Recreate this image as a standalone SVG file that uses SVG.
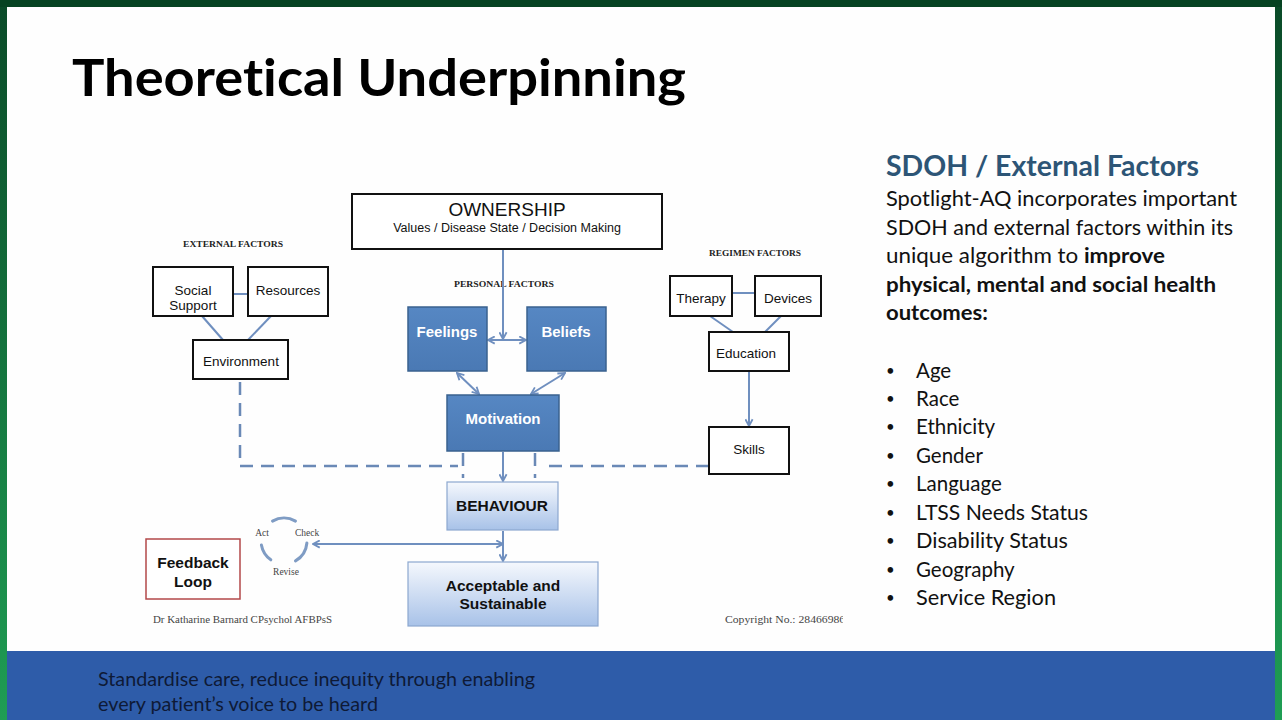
<svg xmlns="http://www.w3.org/2000/svg" width="1282" height="720" viewBox="0 0 1282 720">
<defs>
<style>
text{font-variant-ligatures:none}
.box{fill:#fff;stroke:#111;stroke-width:2}
.blue{fill:url(#gBlue);stroke:#3a628f;stroke-width:1.5}
.light{fill:url(#gLight);stroke:#8ca7cf;stroke-width:1.2}
.lbl{font-family:"Liberation Sans",Arial,sans-serif;font-size:13.5px;fill:#111;text-anchor:middle}
.own{font-size:19px}
.sub{font-size:12.5px}
.wlbl{font-family:"Liberation Sans",Arial,sans-serif;font-size:15px;font-weight:bold;fill:#fff;text-anchor:middle}
.blbl{font-family:"Liberation Sans",Arial,sans-serif;font-size:15.5px;font-weight:bold;fill:#111;text-anchor:middle}
.hdr{font-family:"Liberation Serif","Times New Roman",serif;font-size:9px;font-weight:bold;fill:#222;text-anchor:middle}
.srf{font-family:"Liberation Serif","Times New Roman",serif;font-size:9.5px;fill:#444}
.con{stroke:#6f8fbf;stroke-width:2;fill:none}
.dash{stroke:#6a89b6;stroke-width:2.5;fill:none;stroke-dasharray:13 8}
.arc{stroke:#7f9cc4;stroke-width:3;fill:none;stroke-linecap:round}
.side{font-family:Lato,"Open Sans",sans-serif;font-size:20.5px;fill:#111}
.bul{font-family:Lato,"Open Sans",sans-serif;font-size:20.5px;fill:#111}
.dot{font-size:15px}
</style>
<linearGradient id="gBlue" x1="0" y1="0" x2="0" y2="1"><stop offset="0" stop-color="#5687c3"/><stop offset="1" stop-color="#4a79b4"/></linearGradient>
<linearGradient id="gLight" x1="0" y1="0" x2="0" y2="1"><stop offset="0" stop-color="#f5f8fd"/><stop offset="1" stop-color="#a8c2e8"/></linearGradient>
<linearGradient id="gSide" x1="0" y1="0" x2="0" y2="1"><stop offset="0" stop-color="#0a4a28"/><stop offset="1" stop-color="#1f9e54"/></linearGradient>
<marker id="ah" viewBox="0 0 10 10" refX="9" refY="5" markerWidth="9" markerHeight="9" markerUnits="userSpaceOnUse" orient="auto-start-reverse"><path d="M1.5,1 L9,5 L1.5,9" fill="none" stroke="#6f8fbf" stroke-width="2"/></marker>
<clipPath id="cpClip"><rect x="700" y="605" width="143" height="25"/></clipPath>
</defs>

<!-- frame -->
<rect x="0" y="0" width="1282" height="720" fill="url(#gSide)"/>
<rect x="0" y="0" width="1282" height="7" fill="#064322"/>
<rect x="7" y="7" width="1268" height="644" fill="#fefefe"/>
<rect x="7" y="651" width="1268" height="69" fill="#2e5ca9"/>

<text x="72" y="96" font-family="Lato,'Open Sans',sans-serif" font-size="52" font-weight="bold" fill="#000" textLength="614" lengthAdjust="spacingAndGlyphs">Theoretical Underpinning</text>

<!-- section headers -->
<text class="hdr" x="233" y="247" textLength="100" lengthAdjust="spacingAndGlyphs">EXTERNAL FACTORS</text>
<text class="hdr" x="504" y="287" textLength="100" lengthAdjust="spacingAndGlyphs">PERSONAL FACTORS</text>
<text class="hdr" x="755" y="256" textLength="92" lengthAdjust="spacingAndGlyphs">REGIMEN FACTORS</text>

<!-- connectors -->
<g id="connectors">
<line class="con" x1="233" y1="294" x2="248" y2="294"/>
<line class="con" x1="202" y1="316" x2="223" y2="340"/>
<line class="con" x1="271" y1="316" x2="248" y2="340"/>
<line class="con" x1="732" y1="293" x2="755" y2="293"/>
<line class="con" x1="710" y1="316" x2="733" y2="332"/>
<line class="con" x1="781" y1="316" x2="765" y2="332"/>
<line class="con" x1="503" y1="250" x2="503" y2="339" marker-end="url(#ah)"/>
<line class="con" x1="488" y1="340" x2="526" y2="340" marker-start="url(#ah)" marker-end="url(#ah)"/>
<line class="con" x1="457" y1="373" x2="479" y2="394" marker-start="url(#ah)" marker-end="url(#ah)"/>
<line class="con" x1="565" y1="373" x2="531" y2="394" marker-start="url(#ah)" marker-end="url(#ah)"/>
<line class="con" x1="503" y1="452" x2="503" y2="481" marker-end="url(#ah)"/>
<line class="con" x1="503" y1="531" x2="503" y2="561" marker-end="url(#ah)"/>
<line class="con" x1="313" y1="544" x2="503" y2="544" marker-start="url(#ah)" marker-end="url(#ah)"/>
<line class="con" x1="749" y1="372" x2="749" y2="426" marker-end="url(#ah)"/>
<path class="dash" d="M240,382 V466 H458"/>
<path class="dash" d="M709,466 H542"/>
<line class="dash" x1="463" y1="453" x2="463" y2="478"/>
<line class="dash" x1="535" y1="453" x2="535" y2="478"/>
</g>

<!-- nodes -->
<g id="ownership"><rect class="box" x="352" y="194" width="310" height="55"/>
<text class="lbl own" x="507" y="216">OWNERSHIP</text>
<text class="lbl sub" x="507" y="232">Values / Disease State / Decision Making</text></g>

<g id="social-support"><rect class="box" x="153" y="267" width="80" height="49"/>
<text class="lbl" x="193" y="295">Social</text><text class="lbl" x="193" y="310">Support</text></g>
<g id="resources"><rect class="box" x="248" y="267" width="80" height="49"/>
<text class="lbl" x="288" y="295">Resources</text></g>
<g id="environment"><rect class="box" x="193" y="340" width="95" height="39"/>
<text class="lbl" x="241" y="366">Environment</text></g>

<g id="therapy"><rect class="box" x="670" y="276" width="62" height="40"/>
<text class="lbl" x="701" y="303">Therapy</text></g>
<g id="devices"><rect class="box" x="755" y="276" width="66" height="40"/>
<text class="lbl" x="788" y="303">Devices</text></g>
<g id="education"><rect class="box" x="709" y="332" width="80" height="39"/>
<text class="lbl" x="746" y="358">Education</text></g>
<g id="skills"><rect class="box" x="709" y="427" width="80" height="47"/>
<text class="lbl" x="749" y="454">Skills</text></g>

<g id="feelings"><rect class="blue" x="408" y="307" width="79" height="64"/>
<text class="wlbl" x="447" y="337">Feelings</text></g>
<g id="beliefs"><rect class="blue" x="527" y="307" width="79" height="64"/>
<text class="wlbl" x="566" y="337">Beliefs</text></g>
<g id="motivation"><rect class="blue" x="447" y="395" width="112" height="56"/>
<text class="wlbl" x="503" y="424">Motivation</text></g>
<g id="behaviour"><rect class="light" x="447" y="482" width="111" height="48"/>
<text class="blbl" x="502" y="511">BEHAVIOUR</text></g>
<g id="acceptable"><rect class="light" x="408" y="562" width="190" height="64"/>
<text class="blbl" x="503" y="591">Acceptable and</text><text class="blbl" x="503" y="609">Sustainable</text></g>

<g id="feedback-loop"><rect x="146" y="539" width="94" height="60" fill="#fff" stroke="#b3484a" stroke-width="1.5"/>
<text class="blbl" x="193" y="568">Feedback</text><text class="blbl" x="193" y="587">Loop</text></g>

<g id="cycle">
<path class="arc" d="M272.5,521.1 A23,23 0 0 1 295.5,521.1"/>
<path class="arc" d="M261.4,545 A23,23 0 0 0 270.8,559.8"/>
<path class="arc" d="M306.9,543 A23,23 0 0 1 295.5,560.9"/>
<text class="srf" x="262" y="536" text-anchor="middle">Act</text>
<text class="srf" x="295" y="536">Check</text>
<text class="srf" x="286" y="575" text-anchor="middle">Revise</text>
</g>

<text class="srf" x="153" y="623" textLength="179" lengthAdjust="spacingAndGlyphs">Dr Katharine Barnard CPsychol AFBPsS</text>
<g clip-path="url(#cpClip)"><text class="srf" x="725" y="623" textLength="126" lengthAdjust="spacingAndGlyphs">Copyright No.: 284669868</text></g>

<!-- right column -->
<text x="886" y="176" font-family="Lato,'Open Sans',sans-serif" font-size="28" font-weight="bold" fill="#2d5576" textLength="313" lengthAdjust="spacingAndGlyphs">SDOH / External Factors</text>
<text class="side" x="886" y="206" textLength="351" lengthAdjust="spacingAndGlyphs">Spotlight-AQ incorporates important</text>
<text class="side" x="886" y="235" textLength="347" lengthAdjust="spacingAndGlyphs">SDOH and external factors within its</text>
<text class="side" x="886" y="263" textLength="279" lengthAdjust="spacingAndGlyphs">unique algorithm to <tspan font-weight="bold">improve</tspan></text>
<text class="side" x="886" y="292" font-weight="bold" textLength="330" lengthAdjust="spacingAndGlyphs">physical, mental and social health</text>
<text class="side" x="886" y="320" font-weight="bold" textLength="102" lengthAdjust="spacingAndGlyphs">outcomes:</text>

<g class="bul">
<text class="dot" x="886" y="376">•</text><text x="916" y="378">Age</text>
<text class="dot" x="886" y="404">•</text><text x="916" y="406">Race</text>
<text class="dot" x="886" y="432">•</text><text x="916" y="434">Ethnicity</text>
<text class="dot" x="886" y="461">•</text><text x="916" y="463">Gender</text>
<text class="dot" x="886" y="489">•</text><text x="916" y="491">Language</text>
<text class="dot" x="886" y="518">•</text><text x="916" y="520" textLength="172" lengthAdjust="spacingAndGlyphs">LTSS Needs Status</text>
<text class="dot" x="886" y="546">•</text><text x="916" y="548" textLength="152" lengthAdjust="spacingAndGlyphs">Disability Status</text>
<text class="dot" x="886" y="575">•</text><text x="916" y="577">Geography</text>
<text class="dot" x="886" y="603">•</text><text x="916" y="605" textLength="140" lengthAdjust="spacingAndGlyphs">Service Region</text>
</g>

<text x="98" y="686" font-family="Lato,'Open Sans',sans-serif" font-size="19" fill="#0e1a36" textLength="437" lengthAdjust="spacingAndGlyphs">Standardise care, reduce inequity through enabling</text>
<text x="98" y="711" font-family="Lato,'Open Sans',sans-serif" font-size="19" fill="#0e1a36" textLength="280" lengthAdjust="spacingAndGlyphs">every patient’s voice to be heard</text>
</svg>
